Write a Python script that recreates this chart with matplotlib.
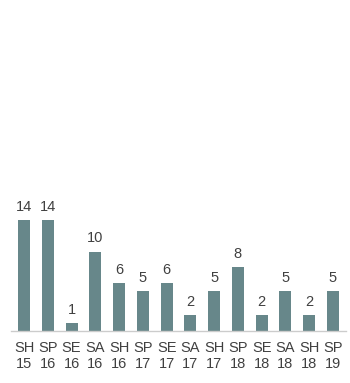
import matplotlib.pyplot as plt

seasons = ["SH", "SP", "SE", "SA", "SH", "SP", "SE", "SA", "SH", "SP", "SE", "SA", "SH", "SP"]
years = ["15", "16", "16", "16", "16", "17", "17", "17", "17", "18", "18", "18", "18", "19"]
counts = [14, 14, 1, 10, 6, 5, 6, 2, 5, 8, 2, 5, 2, 5]

labels = [f"{s}\n{y}" for s, y in zip(seasons, years)]
x = list(range(len(counts)))

plt.rcParams["font.family"] = ["Liberation Sans", "DejaVu Sans"]

fig = plt.figure(figsize=(3.5, 3.83), dpi=100)
ax = fig.add_axes([11 / 350, 52 / 383, 335 / 350, 331 / 383])

bars = ax.bar(x, counts, width=0.5, color="#67878a")
for b, v in zip(bars, counts):
    ax.annotate(str(v), (b.get_x() + b.get_width() / 2, v),
                xytext=(0, 4.5), textcoords="offset points",
                ha="center", va="bottom", fontsize=10.5, color="#404040")

ax.set_xlim(-0.55, len(counts) - 0.45)
ax.set_ylim(0, 41.7)
ax.set_xticks(x)
ax.set_xticklabels(labels, fontsize=10.5, color="#404040", linespacing=1.18)
ax.tick_params(axis="x", length=0, pad=7)
ax.set_yticks([])

for side in ["top", "right", "left"]:
    ax.spines[side].set_visible(False)
ax.spines["bottom"].set_color("#cccccc")
ax.spines["bottom"].set_linewidth(1)

fig.savefig("out.png", dpi=100)
